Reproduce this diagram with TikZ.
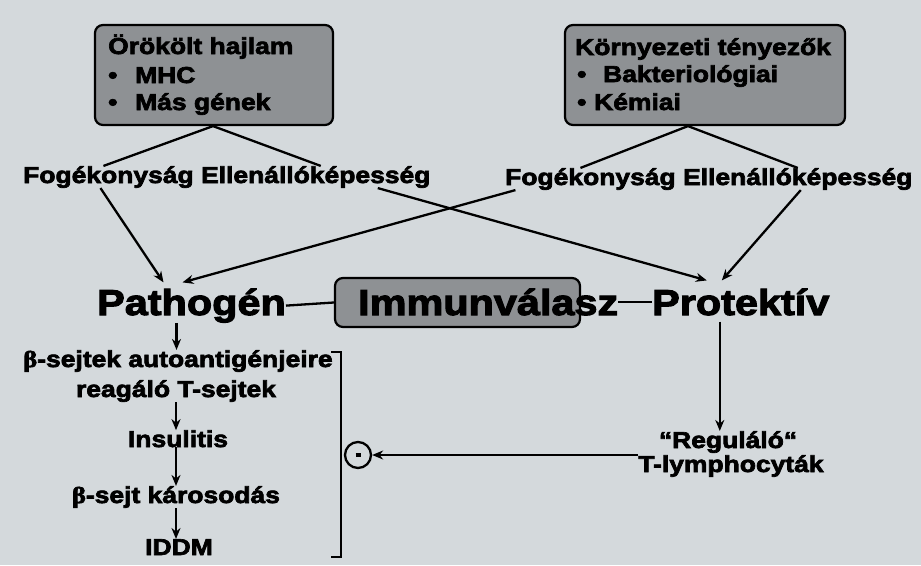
\documentclass[tikz,border=0pt]{standalone}
\usepackage{fontspec}
\setmainfont{Liberation Sans}[FakeStretch=1.15, BoldFont={Liberation Sans Bold}, BoldFeatures={FakeBold=3}]
\newfontfamily\grk{Liberation Serif}[FakeStretch=1.15, BoldFont={Liberation Serif Bold}, BoldFeatures={FakeBold=3}]
\usetikzlibrary{arrows.meta}
\definecolor{bg}{RGB}{212,217,220}
\definecolor{boxg}{RGB}{142,145,148}
\begin{document}
\begin{tikzpicture}[x=1pt,y=-1pt,
  t/.style={font=\fontsize{23}{27}\selectfont\bfseries, inner sep=0pt},
  big/.style={font=\fontsize{36}{40}\selectfont\bfseries, inner sep=0pt},
  rbox/.style={draw=black, line width=2.2pt, rounded corners=8pt, fill=boxg, inner sep=0pt},
  ln/.style={line width=2.3pt},
  arr/.style={ln, -{Stealth[length=11pt,width=9pt]}}]
\fill[bg] (0,0) rectangle (921,565);
\useasboundingbox (0,0) rectangle (921,565);

% top boxes
\node[rbox, minimum width=238pt, minimum height=100pt] (boxL) at (214,75) {};
\node[rbox, minimum width=280pt, minimum height=100pt] (boxR) at (705,75) {};
\node[t, anchor=base west] (l1) at (108,54) {Örökölt hajlam};
\node[t, anchor=base west] (l2) at (108,83) {\makebox[27pt][l]{•}MHC};
\node[t, anchor=base west] (l3) at (108,110) {\makebox[27pt][l]{•}Más gének};
\node[t, anchor=base west] (r1) at (575,55) {Környezeti tényezők};
\node[t, anchor=base west] (r2) at (577,82) {\makebox[26pt][l]{•}Bakteriológiai};
\node[t, anchor=base west] (r3) at (577,110) {\makebox[17pt][l]{•}Kémiai};

% susceptibility / resistance
\node[t, anchor=base west] (fogL) at (23,183) {Fogékonyság};
\node[t, anchor=base west] (ellL) at ([xshift=7pt]fogL.base east) {Ellenállóképesség};
\node[t, anchor=base west] (fogR) at (505,185) {Fogékonyság};
\node[t, anchor=base west] (ellR) at ([xshift=7pt]fogR.base east) {Ellenállóképesség};

\draw[ln] ([xshift=-5pt]fogL.north) -- ([xshift=-1pt]boxL.south) -- ([xshift=5pt]ellL.north);
\draw[ln] ([xshift=-10pt]fogR.north) -- ([xshift=-17pt]boxR.south) -- (ellR.north);

% middle row
\node[big, anchor=base west] (patho) at (97,315) {Pathogén};
\node[rbox, minimum width=245pt, minimum height=49pt] (immbox) at (457.5,302.5) {};
\node[big, anchor=base west] (immtext) at (358,315) {Immunválasz};
\node[big, anchor=base west] (protek) at (652,315) {Protektív};
\draw[ln] (patho.east) -- (immbox.west);
\draw[ln] (immtext.east) -- (protek.west);

\draw[arr] ([xshift=-8pt]fogL.south) -- ([xshift=-28pt,yshift=6pt]patho.north);
\draw[arr] ([xshift=-75pt]fogR.south) -- ([xshift=-9pt,yshift=6pt]patho.north);
\draw[arr] ([xshift=62pt]ellL.south) -- ([xshift=-34pt,yshift=8pt]protek.north);
\draw[arr] ([xshift=3pt]ellR.south) -- ([xshift=-19pt,yshift=8pt]protek.north);

% left column
\node[t, anchor=base] (b1a) at (178,367) {{\grk β}-sejtek autoantigénjeire};
\node[t, anchor=base] (b1b) at (176,397) {reagáló T-sejtek};
\node[t, anchor=base] (ins) at (178,447) {Insulitis};
\node[t, anchor=base] (bs) at (176,503) {{\grk β}-sejt károsodás};
\node[t, anchor=base] (iddm) at (179,555) {IDDM};

\draw[arr] ([xshift=-15pt]patho.south) -- ([xshift=-15pt]patho.south |- b1a.north);
\draw[arr] (b1b.south) -- (b1b.south |- ins.north);
\draw[arr] (ins.south -| b1b.south) -- (b1b.south |- bs.north);
\draw[arr] (bs.south -| b1b.south) -- (b1b.south |- iddm.north);

% bracket
\draw[ln] (331,352) -- (341,352) -- (341,557) -- (331,557);

% right column
\node[t, anchor=base] (rega) at (728,448) {“Reguláló“};
\node[t, anchor=base] (regb) at (731,472) {T-lymphocyták};
\draw[arr] ([xshift=-21pt,yshift=-6pt]protek.south) -- ([xshift=-21pt]protek.south |- rega.north);

\node[draw, circle, line width=2.3pt, minimum size=26pt, inner sep=0pt] (circ) at (358,455) {\rule{5pt}{4pt}};
\draw[arr] (circ.east -| regb.west) -- (circ.east);
\end{tikzpicture}
\end{document}
